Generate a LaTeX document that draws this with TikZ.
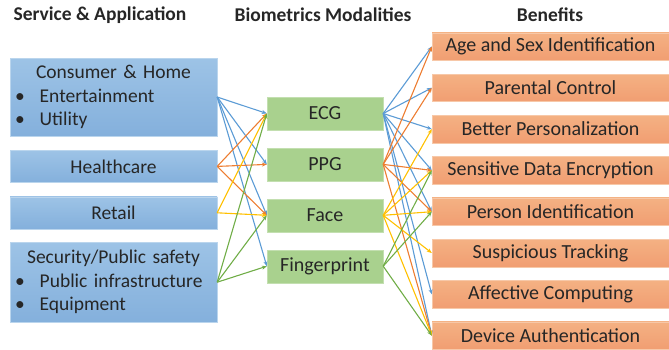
\documentclass[tikz,border=0pt]{standalone}
\usepackage{fontspec}
\setmainfont{Carlito}
\usepackage{tikz}
\usetikzlibrary{arrows.meta,positioning}

\definecolor{boxblue}{HTML}{9DC3E6}
\definecolor{boxbluedark}{HTML}{84B0DC}
\definecolor{boxgreen}{HTML}{A9D18E}
\definecolor{boxorange}{HTML}{F4B183}
\definecolor{boxorangedark}{HTML}{F19E72}
\definecolor{lineblue}{HTML}{5B9BD5}
\definecolor{lineorange}{HTML}{ED7D31}
\definecolor{lineyellow}{HTML}{FFC000}
\definecolor{linegreen}{HTML}{70AD47}

\begin{document}
\begin{tikzpicture}[
  x=1pt, y=1pt,
  head/.style={font=\fontsize{19.5}{22}\selectfont\bfseries, text=black!85},
  service/.style={rectangle, draw=boxblue!70, top color=boxblue, bottom color=boxbluedark,
    minimum width=207pt, inner sep=0pt, font=\fontsize{19.5}{23.5}\selectfont, text=black!85},
  modality/.style={rectangle, draw=boxgreen!70, fill=boxgreen, minimum width=116pt,
    minimum height=33pt, inner sep=0pt, font=\fontsize{20}{22}\selectfont, text=black!85},
  benefit/.style={rectangle, draw=boxorange!70, top color=boxorange, bottom color=boxorangedark,
    minimum width=237pt, minimum height=27.5pt, inner sep=0pt, font=\fontsize{20}{22}\selectfont, text=black!85},
  arr/.style={-{Stealth[length=5pt, width=4pt]}, line width=1.1pt},
  blueline/.style={arr, lineblue},
  orangeline/.style={arr, lineorange},
  yellowline/.style={arr, lineyellow},
  greenline/.style={arr, linegreen}
]
\useasboundingbox (0,0) rectangle (669,-349);

% column headings
\node[head] (h1) at (100,-15) {Service \& Application};
\node[head] (h2) at (323,-15) {Biometrics Modalities};
\node[head] (h3) at (550,-15) {Benefits};

% services
\node[service, minimum height=78pt, text width=197pt, align=left] (cons) at (113.5,-97)
  {\makebox[197pt]{Consumer \& Home}\\
   \textbullet\hspace{15pt}Entertainment\\
   \textbullet\hspace{15pt}Utility};
\node[service, minimum height=32pt, below=14pt of cons] (health) {Healthcare};
\node[service, minimum height=32pt, below=14pt of health] (retail) {Retail};
\node[service, minimum height=80pt, text width=197pt, align=left, below=13pt of retail] (secur)
  {\makebox[197pt]{Security/Public safety}\\
   \textbullet\hspace{15pt}Public infrastructure\\
   \textbullet\hspace{15pt}Equipment};

% modalities
\node[modality] (ecg) at (325,-113.5) {ECG};
\node[modality, below=17.5pt of ecg] (ppg) {PPG};
\node[modality, below=17.5pt of ppg] (face) {Face};
\node[modality, below=17.5pt of face] (finger) {Fingerprint};

% benefits
\node[benefit] (age) at (550.5,-46.5) {Age and Sex Identification};
\node[benefit, below=13.4pt of age] (parent) {Parental Control};
\node[benefit, below=13.4pt of parent] (person) {Better Personalization};
\node[benefit, below=13.4pt of person] (encrypt) {Sensitive Data Encryption};
\node[benefit, below=13.4pt of encrypt] (ident) {Person Identification};
\node[benefit, below=13.4pt of ident] (track) {Suspicious Tracking};
\node[benefit, below=13.4pt of track] (affect) {Affective Computing};
\node[benefit, below=13.4pt of affect] (auth) {Device Authentication};

% services to modalities
\draw[blueline] (cons.east) -- (ecg.west);
\draw[blueline] (cons.east) -- (ppg.west);
\draw[blueline] (cons.east) -- (face.west);
\draw[blueline] (cons.east) -- (finger.west);
\draw[orangeline] (health.east) -- (ecg.west);
\draw[orangeline] (health.east) -- (ppg.west);
\draw[orangeline] (health.east) -- (face.west);
\draw[yellowline] (retail.east) -- (ecg.west);
\draw[yellowline] (retail.east) -- (face.west);
\draw[greenline] (secur.east) -- (ecg.west);
\draw[greenline] (secur.east) -- (face.west);
\draw[greenline] (secur.east) -- (finger.west);

% modalities to benefits
\draw[blueline] (ecg.east) -- (age.west);
\draw[blueline] (ecg.east) -- (parent.west);
\draw[blueline] (ecg.east) -- (person.west);
\draw[blueline] (ecg.east) -- (encrypt.west);
\draw[blueline] (ecg.east) -- (ident.west);
\draw[blueline] (ecg.east) -- (affect.west);
\draw[blueline] (ecg.east) -- (auth.west);
\draw[orangeline] (ppg.east) -- (age.west);
\draw[orangeline] (ppg.east) -- (parent.west);
\draw[orangeline] (ppg.east) -- (encrypt.west);
\draw[orangeline] (ppg.east) -- (ident.west);
\draw[orangeline] (ppg.east) -- (auth.west);
\draw[yellowline] (face.east) -- (person.west);
\draw[yellowline] (face.east) -- (encrypt.west);
\draw[yellowline] (face.east) -- (ident.west);
\draw[yellowline] (face.east) -- (track.west);
\draw[yellowline] (face.east) -- (auth.west);
\draw[greenline] (finger.east) -- (encrypt.west);
\draw[greenline] (finger.east) -- (ident.west);
\draw[greenline] (finger.east) -- (auth.west);

\end{tikzpicture}
\end{document}
